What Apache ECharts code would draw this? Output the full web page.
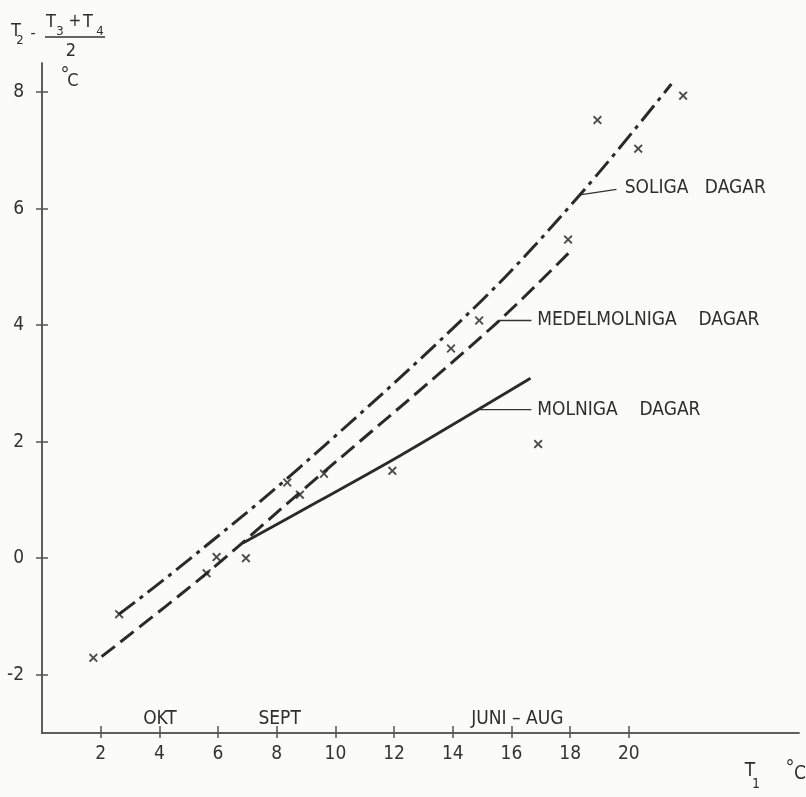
<!DOCTYPE html>
<html><head><meta charset="utf-8">
<script src="https://cdn.jsdelivr.net/npm/echarts@6/dist/echarts.min.js"></script>
<style>html,body{margin:0;padding:0;background:#fbfbfa}#c{width:806px;height:797px}</style>
</head><body><div id="c"></div>
<script>
// ---- data ----
const xTicks = [2, 4, 6, 8, 10, 12, 14, 16, 18, 20];
const yTicks = [-2, 0, 2, 4, 6, 8];
const obsX = [1.75, 2.63, 5.61, 5.95, 6.95, 8.36, 8.79, 9.61, 11.94, 13.94, 14.90, 16.91, 17.93, 18.93, 20.32, 21.85];
const obsY = [-1.71, -0.96, -0.26, 0.02, 0.00, 1.30, 1.09, 1.45, 1.50, 3.60, 4.08, 1.96, 5.47, 7.52, 7.03, 7.94];
const soligaX = [2.63, 4.70, 8.79, 14.98, 18.44, 21.45];
const soligaY = [-0.96, -0.15, 1.56, 4.42, 6.30, 8.14];
const medelX = [2.03, 5.61, 8.68, 15.26, 18.05];
const medelY = [-1.69, -0.26, 1.08, 3.93, 5.29];
const molnigaX = [6.85, 9.47, 12.2, 16.65];
const molnigaY = [0.26, 0.99, 1.76, 3.09];
const seriesNames = ['SOLIGA   DAGAR', 'MEDELMOLNIGA    DAGAR', 'MOLNIGA    DAGAR'];
const monthNames = ['OKT', 'SEPT', 'JUNI – AUG'];
const monthX = [4.02, 8.1, 16.2];

const FONT = "'DejaVu Sans Condensed','DejaVu Sans',sans-serif";
const INK = '#2a2a2a';
const zip = (a, b) => a.map((v, i) => [v, b[i]]);

const chart = echarts.init(document.getElementById('c'), null, {renderer: 'canvas'});
const cross = 'path://M0,1.5L1.5,0L5,3.5L8.5,0L10,1.5L6.5,5L10,8.5L8.5,10L5,6.5L1.5,10L0,8.5L3.5,5Z';

const axisCommon = {
  axisLine: {show: true, onZero: false, lineStyle: {color: '#555', width: 1.5}},
  splitLine: {show: false}
};
chart.setOption({
  animation: false,
  backgroundColor: '#fbfbfa',
  textStyle: {fontFamily: FONT},
  grid: {left: 42, right: 7, top: 63, bottom: 64},
  xAxis: [
    Object.assign({type: 'value', min: 0, max: 25.8,
      axisTick: {show: true, customValues: xTicks, length: 5, lineStyle: {color: '#555', width: 1.5}},
      axisLabel: {show: true, customValues: xTicks, margin: 12, fontSize: 19, color: '#333', fontFamily: FONT}
    }, axisCommon),
    Object.assign({type: 'value', min: 0, max: 25.8, position: 'bottom',
      axisTick: {show: true, inside: true, customValues: xTicks, length: 7, lineStyle: {color: '#555', width: 1.5}},
      axisLabel: {show: false}
    }, axisCommon)
  ],
  yAxis: [
    Object.assign({type: 'value', min: -3, max: 8.5,
      axisTick: {show: true, customValues: yTicks, length: 6, lineStyle: {color: '#555', width: 1.5}},
      axisLabel: {show: true, customValues: yTicks, margin: 18, fontSize: 19, color: '#333', fontFamily: FONT}
    }, axisCommon),
    Object.assign({type: 'value', min: -3, max: 8.5, position: 'left',
      axisTick: {show: true, inside: true, customValues: yTicks, length: 6, lineStyle: {color: '#555', width: 1.5}},
      axisLabel: {show: false}
    }, axisCommon)
  ],
  series: [
    {name: seriesNames[0], type: 'line', data: zip(soligaX, soligaY), smooth: 0.35, symbol: 'none',
     lineStyle: {color: INK, width: 3, type: [20, 6, 4, 6], cap: 'butt'}},
    {name: seriesNames[1], type: 'line', data: zip(medelX, medelY), smooth: 0.35, symbol: 'none',
     lineStyle: {color: INK, width: 3, type: [17, 7], cap: 'butt'}},
    {name: seriesNames[2], type: 'line', data: zip(molnigaX, molnigaY), smooth: 0.3, symbol: 'none',
     lineStyle: {color: INK, width: 2.8, type: 'solid'}},
    {name: 'obs', type: 'scatter', data: zip(obsX, obsY), symbol: cross, symbolSize: 9,
     itemStyle: {color: '#222'}, z: 5}
  ]
});

function px(x, y) { return chart.convertToPixel({gridIndex: 0}, [x, y]); }

// annotation anchors (data coordinates): leader start, leader end, text start
const leaders = [
  {from: [18.39, 6.24], to: [19.58, 6.33], text: [19.86, 6.36]},
  {from: [15.57, 4.08], to: [16.68, 4.08], text: [16.88, 4.08]},
  {from: [14.92, 2.55], to: [16.68, 2.55], text: [16.88, 2.55]}
];
const g = [];
leaders.forEach((l, i) => {
  const a = px(l.from[0], l.from[1]), b = px(l.to[0], l.to[1]), t = px(l.text[0], l.text[1]);
  g.push({type: 'line', shape: {x1: a[0], y1: a[1], x2: b[0], y2: b[1]}, style: {stroke: '#333', lineWidth: 1.3}});
  g.push({type: 'text', x: t[0], y: t[1], style: {text: seriesNames[i], font: '19px ' + FONT, fill: '#2e2e2e', textAlign: 'left', textVerticalAlign: 'middle'}});
});
monthNames.forEach((m, i) => {
  const p = px(monthX[i], -2.76);
  g.push({type: 'text', x: p[0], y: p[1], style: {text: m, font: '19px ' + FONT, fill: '#2e2e2e', textAlign: 'center', textVerticalAlign: 'middle'}});
});
function txt(s, x, y, size) {
  g.push({type: 'text', x: x, y: y, style: {text: s, font: size + 'px ' + FONT, fill: '#2e2e2e', textAlign: 'center', textVerticalAlign: 'middle'}});
}
// y-axis title  T2 - (T3+T4)/2  °C
txt('T', 16, 31, 18); txt('2', 20, 41, 13); txt('-', 33, 34, 16);
txt('T', 51, 22, 18); txt('3', 60, 32, 13); txt('+', 75, 22, 17); txt('T', 88, 22, 18); txt('4', 100, 32, 13);
g.push({type: 'line', shape: {x1: 45, y1: 37, x2: 105, y2: 37}, style: {stroke: '#333', lineWidth: 1.5}});
txt('2', 71, 51, 18);
txt('°', 65, 76, 20); txt('C', 73, 81, 18);
// x-axis title  T1  °C
txt('T', 750, 771, 19); txt('1', 756, 784, 14);
txt('°', 790, 769, 20); txt('C', 800, 774, 19);

chart.setOption({graphic: g});
</script></body></html>
